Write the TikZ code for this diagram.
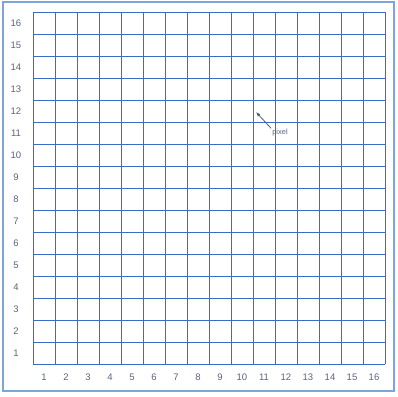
\documentclass[tikz,border=0pt]{standalone}
\usepackage{fontspec}
\setmainfont{Liberation Sans}
\usetikzlibrary{arrows.meta}
\definecolor{gridblue}{RGB}{55,110,195}
\definecolor{frameblue}{RGB}{125,165,215}
\definecolor{labelgray}{RGB}{90,100,130}
\begin{document}
\begin{tikzpicture}[x=1pt,y=-1pt,
  gridline/.style={draw=gridblue,line width=0.95pt},
  framebox/.style={draw=frameblue,line width=1.6pt},
  numlabel/.style={text=labelgray,font=\fontsize{9.5}{11}\selectfont,inner sep=0pt},
  pixlabel/.style={text=labelgray,font=\fontsize{7.5}{9}\selectfont,inner sep=1pt},
  pointer/.style={draw=labelgray!90!black,line width=0.8pt,-{Latex[length=4.5pt,width=3.5pt]}}]
\fill[white] (0,0) rectangle (397,397);
\useasboundingbox (0,0) rectangle (397,397);
\draw[framebox] (3,2) rectangle (394,391);
% grid
\foreach \i in {0,...,16}{
  \draw[gridline] ({33+22*\i},12) -- ({33+22*\i},364);
  \draw[gridline] (33,{12+22*\i}) -- (385,{12+22*\i});
}
% column labels
\foreach \i in {1,...,16}{
  \node[numlabel] (c\i) at ({33+22*\i-11},377) {\i};
}
% row labels
\foreach \i in {1,...,16}{
  \node[numlabel] (r\i) at (16,{364-22*\i+11}) {\i};
}
\node[pixlabel] (pix) at (280,133) {pixel};
\coordinate (pixtip) at (256,112);
\draw[pointer] (pix.north west) -- (pixtip);
\end{tikzpicture}
\end{document}
